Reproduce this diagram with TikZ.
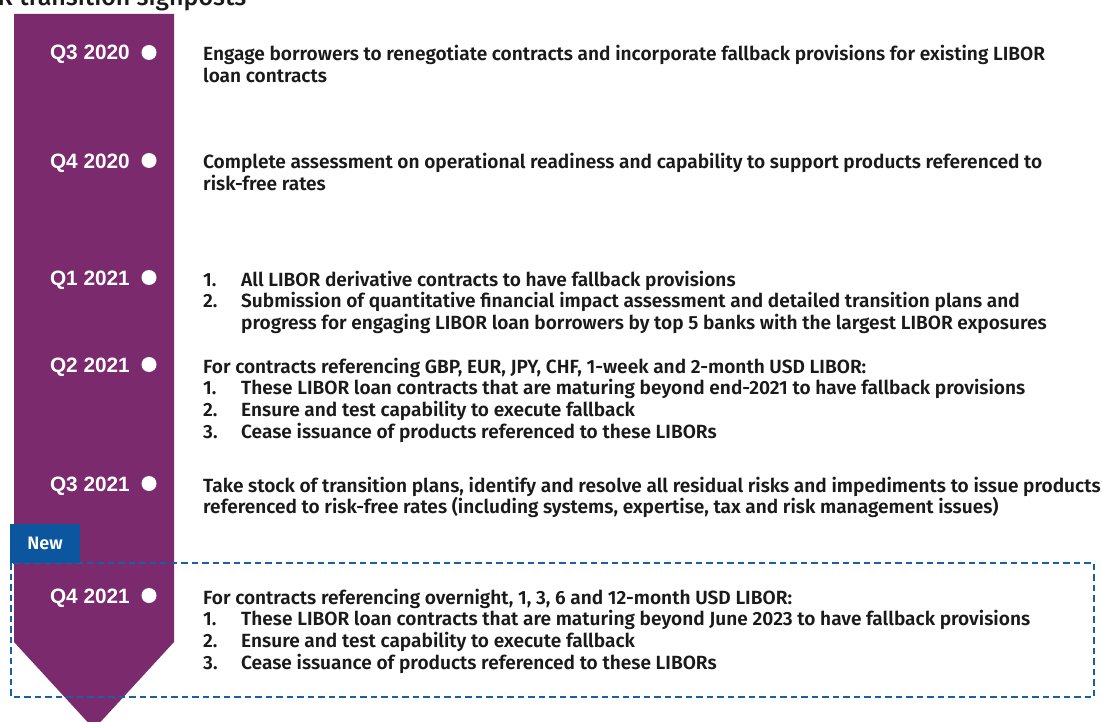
\documentclass[tikz,border=0pt]{standalone}
\usepackage{fontspec}
\setmainfont{Fira Sans SemiBold}
\newfontfamily\labelfont{Liberation Sans}[BoldFont={Liberation Sans Bold}]
\newfontfamily\titlefont{Fira Sans Medium}
\definecolor{bandpurple}{HTML}{7A2A6D}
\definecolor{newblue}{HTML}{0B569E}
\definecolor{dashblue}{HTML}{1A5EA4}
\definecolor{ink}{HTML}{1A1A1A}

% one line of a text block, a numbered line, and a hanging continuation line
\newcommand\plainrow[1]{\hbox{#1}}
\newcommand\numrow[2]{\hbox{\makebox[38pt][l]{#1}#2}}
\newcommand\controw[1]{\hbox{\hspace*{38pt}#1}}
\newcommand\rowblock[1]{\vtop{\baselineskip=21.8pt\lineskiplimit=-10pt\relax#1}}

\tikzset{
  quarter/.style={anchor=base east, inner sep=0pt, text=white,
    font=\labelfont\bfseries\fontsize{20.8}{24}\selectfont},
  marker/.style={circle, fill=white, minimum size=15pt, inner sep=0pt},
  entry/.style={anchor=base west, inner sep=0pt, text=ink,
    font=\fontsize{19.1}{21.8}\selectfont},
  newtag/.style={fill=newblue, text=white, inner sep=0pt,
    minimum width=70pt, minimum height=39pt,
    font=\fontsize{18}{20}\selectfont},
}

\begin{document}
\begin{tikzpicture}[x=1pt, y=-1pt]
\useasboundingbox (0,0) rectangle (1102,722);

% heading, running past the top edge
\begin{scope}
  \clip (0,0) rectangle (1102,722);
  \node[anchor=base east, inner sep=0pt, text=ink,
    font=\titlefont\fontsize{25}{29}\selectfont] (title) at (13,6) {LIBOR};
  \node[anchor=base west, inner sep=0pt, text=ink,
    font=\titlefont\fontsize{25}{29}\selectfont] (title2) at (title.base east) {\ transition signposts};
\end{scope}

% timeline band ending in a downward point
\fill[bandpurple] (14,14) -- (174,14) -- (174,642) -- (94,729) -- (14,642) -- cycle;

% box around the newest signpost
\draw[dashblue, line width=2.7pt, dash pattern=on 6.5pt off 4pt]
  (11,563) rectangle (1094,697);
\node[newtag] (new) at (45,543.5) {New};

% quarters and their markers
\foreach \nm/\q/\yb in {a/Q3 2020/60, b/Q4 2020/168, c/Q1 2021/285,
                        d/Q2 2021/372, e/Q3 2021/491, f/Q4 2021/603} {
  \node[quarter] (q\nm) at (130,\yb) {\q};
  \node[marker] (m\nm) at (149,\yb-7.5) {};
}

% signpost descriptions
\node[entry] (ta) at (203,61) {\rowblock{%
  \plainrow{Engage borrowers to renegotiate contracts and incorporate fallback provisions for existing LIBOR}%
  \plainrow{loan contracts}}};

\node[entry] (tb) at (203,169) {\rowblock{%
  \plainrow{Complete assessment on operational readiness and capability to support products referenced to}%
  \plainrow{risk-free rates}}};

\node[entry] (tc) at (203,286) {\rowblock{%
  \numrow{1.}{All LIBOR derivative contracts to have fallback provisions}%
  \numrow{2.}{Submission of quantitative financial impact assessment and detailed transition plans and}%
  \controw{progress for engaging LIBOR loan borrowers by top 5 banks with the largest LIBOR exposures}}};

\node[entry] (td) at (203,373) {\rowblock{%
  \plainrow{For contracts referencing GBP, EUR, JPY, CHF, 1-week and 2-month USD LIBOR:}%
  \numrow{1.}{These LIBOR loan contracts that are maturing beyond end-2021 to have fallback provisions}%
  \numrow{2.}{Ensure and test capability to execute fallback}%
  \numrow{3.}{Cease issuance of products referenced to these LIBORs}}};

\node[entry] (te) at (203,492) {\rowblock{%
  \plainrow{Take stock of transition plans, identify and resolve all residual risks and impediments to issue products}%
  \plainrow{referenced to risk-free rates (including systems, expertise, tax and risk management issues)}}};

\node[entry] (tf) at (203,604) {\rowblock{%
  \plainrow{For contracts referencing overnight, 1, 3, 6 and 12-month USD LIBOR:}%
  \numrow{1.}{These LIBOR loan contracts that are maturing beyond June 2023 to have fallback provisions}%
  \numrow{2.}{Ensure and test capability to execute fallback}%
  \numrow{3.}{Cease issuance of products referenced to these LIBORs}}};
\end{tikzpicture}
\end{document}
